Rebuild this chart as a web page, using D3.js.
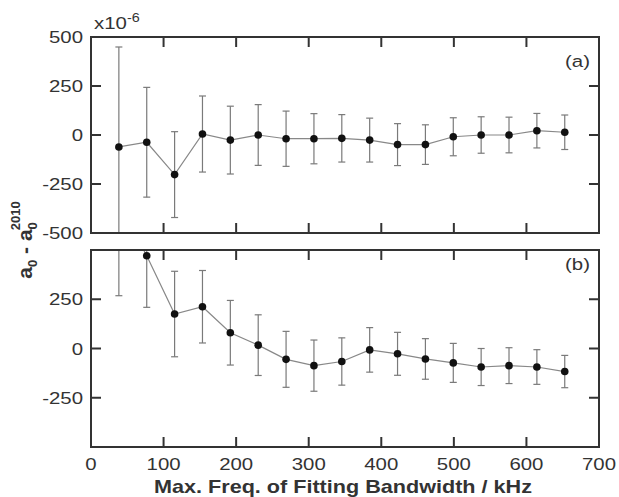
<!DOCTYPE html>
<html>
<head>
<script src="https://d3js.org/d3.v7.min.js"></script>
<style>
  body { margin: 0; background: #fff; }
  text { font-family: "Liberation Sans", Arial, sans-serif; fill: #333; }
</style>
</head>
<body>
<div id="chart"></div>
<script>
// max. freq. of fitting bandwidth (kHz)
const freq = [38.4, 76.8, 115.2, 153.6, 192, 230.4, 268.8, 307.2, 345.6, 384, 422.4, 460.8, 499.2, 537.6, 576, 614.4, 652.8];

// panel (a): a0 - a0^2010 (x1e-6) and error
const valA = [-61, -37, -202, 5, -26, 0, -19, -19, -17, -26, -49, -49, -9, 0, 0, 22, 14];
const errA = [510, 280, 219, 194, 173, 155, 141, 128, 121, 112, 107, 101, 97, 93, 91, 88, 88];

// panel (b)
const valB = [730, 471, 175, 212, 80, 17, -55, -87, -66, -7, -27, -53, -73, -94, -87, -94, -117];
const errB = [462, 262, 217, 184, 164, 154, 142, 130, 120, 113, 109, 103, 99, 94, 91, 88, 82];

const xTicks = [0, 100, 200, 300, 400, 500, 600, 700];
const yTicksA = [500, 250, 0, -250, -500];
const yTicksB = [250, 0, -250];

const W = 619, H = 497;
const left = 91, right = 599;
const sx = 1.2; // the original figure's text is a bit wide
const panels = [
  { top: 37, bottom: 233, val: valA, err: errA, labels: yTicksA, tag: "(a)", tagY: 67 },
  { top: 250, bottom: 447, val: valB, err: errB, labels: yTicksB, tag: "(b)", tagY: 270 }
];

const svg = d3.select("#chart").append("svg")
  .attr("width", W).attr("height", H);

// text stretched horizontally around its anchor point
function wideText(px, py, anchor, size, str) {
  return svg.append("text")
    .attr("transform", `translate(${px},${py}) scale(${sx},1)`)
    .attr("text-anchor", anchor)
    .style("font-size", size + "px")
    .text(str);
}

const x = d3.scaleLinear().domain([0, 700]).range([left, right]);
const innerTicks = [100, 200, 300, 400, 500, 600];
const sideTicks = [250, 0, -250];
const tickLen = 10;

panels.forEach(function(p, i) {
  const y = d3.scaleLinear().domain([-500, 500]).range([p.bottom, p.top]);
  const g = svg.append("g");
  const clipId = "clip" + i;
  svg.append("clipPath").attr("id", clipId)
    .append("rect").attr("x", left).attr("y", p.top)
    .attr("width", right - left).attr("height", p.bottom - p.top);

  // inward ticks
  innerTicks.forEach(function(t) {
    g.append("line").attr("x1", x(t)).attr("x2", x(t))
      .attr("y1", p.top).attr("y2", p.top + tickLen)
      .attr("stroke", "#333").attr("stroke-width", 2);
    g.append("line").attr("x1", x(t)).attr("x2", x(t))
      .attr("y1", p.bottom).attr("y2", p.bottom - tickLen)
      .attr("stroke", "#333").attr("stroke-width", 2);
  });
  sideTicks.forEach(function(t) {
    g.append("line").attr("x1", left).attr("x2", left + tickLen)
      .attr("y1", y(t)).attr("y2", y(t))
      .attr("stroke", "#333").attr("stroke-width", 2);
    g.append("line").attr("x1", right).attr("x2", right - tickLen)
      .attr("y1", y(t)).attr("y2", y(t))
      .attr("stroke", "#333").attr("stroke-width", 2);
  });

  // y tick labels
  p.labels.forEach(function(t) {
    wideText(left - 8, y(t) + 6, "end", 17, t);
  });

  const plot = g.append("g").attr("clip-path", "url(#" + clipId + ")");
  const pts = freq.map(function(f, k) { return { f: f, v: p.val[k], e: p.err[k] }; });

  // error bars
  const eb = plot.selectAll(".eb").data(pts).enter().append("g");
  eb.append("line")
    .attr("x1", d => x(d.f)).attr("x2", d => x(d.f))
    .attr("y1", d => y(d.v - d.e)).attr("y2", d => y(d.v + d.e))
    .attr("stroke", "#7a7a7a").attr("stroke-width", 1.2);
  [-1, 1].forEach(function(s) {
    eb.append("line")
      .attr("x1", d => x(d.f) - 3.5).attr("x2", d => x(d.f) + 3.5)
      .attr("y1", d => y(d.v + s * d.e)).attr("y2", d => y(d.v + s * d.e))
      .attr("stroke", "#7a7a7a").attr("stroke-width", 1.2);
  });

  plot.append("path").datum(pts)
    .attr("fill", "none").attr("stroke", "#888").attr("stroke-width", 1.2)
    .attr("d", d3.line().x(d => x(d.f)).y(d => y(d.v)));

  plot.selectAll("circle").data(pts).enter().append("circle")
    .attr("cx", d => x(d.f)).attr("cy", d => y(d.v)).attr("r", 3.8)
    .attr("fill", "#111");

  // frame
  g.append("rect").attr("x", left).attr("y", p.top)
    .attr("width", right - left).attr("height", p.bottom - p.top)
    .attr("fill", "none").attr("stroke", "#333").attr("stroke-width", 2);

  wideText(right - 9, p.tagY, "end", 17, p.tag);
});

// x tick labels
xTicks.forEach(function(t) {
  wideText(x(t), 470, "middle", 17, t);
});

wideText(x(350) - 2, 493, "middle", 18, "Max. Freq. of Fitting Bandwidth / kHz")
  .style("font-weight", "bold");

// multiplier
const mult = wideText(94, 29, "start", 17, "x10");
mult.append("tspan").attr("dy", -7).style("font-size", "12px").text("-6");

// y title
const yt = svg.append("text")
  .attr("transform", "translate(32,240) rotate(-90)")
  .attr("text-anchor", "middle")
  .style("font-size", "21px").style("font-weight", "bold");
yt.append("tspan").text("a");
yt.append("tspan").attr("dy", 5).style("font-size", "13px").text("0");
yt.append("tspan").attr("dy", -5).text(" - a");
yt.append("tspan").attr("dy", 5).style("font-size", "13px").text("0");
yt.append("tspan").attr("dy", -17).attr("dx", -8).style("font-size", "13px").text("2010");
</script>
</body>
</html>
